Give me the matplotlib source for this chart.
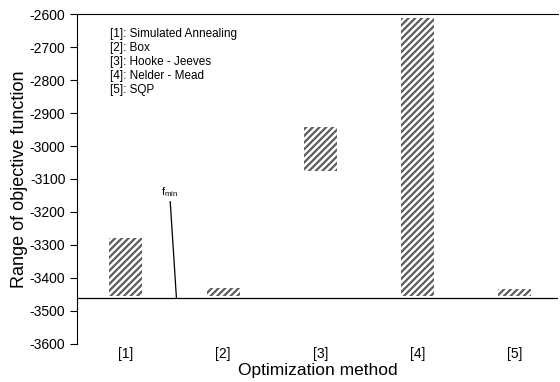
import matplotlib.pyplot as plt

plt.rcParams['font.family'] = ['Liberation Sans', 'DejaVu Sans']
plt.rcParams['hatch.linewidth'] = 1.6
plt.rcParams['mathtext.default'] = 'regular'
plt.rcParams['axes.unicode_minus'] = False

# optimization methods and the range of objective values each one reached
methods = ["[1]", "[2]", "[3]", "[4]", "[5]"]
method_names = ["Simulated Annealing", "Box", "Hooke - Jeeves", "Nelder - Mead", "SQP"]
range_low = [-3455, -3455, -3076, -3455, -3455]
range_high = [-3278, -3430, -2942, -2612, -3433]
f_min = -3460

positions = list(range(1, len(methods) + 1))
heights = [hi - lo for lo, hi in zip(range_low, range_high)]

fig, ax = plt.subplots(figsize=(5.6, 3.82), dpi=100)
fig.subplots_adjust(left=0.138, right=0.997, top=0.963, bottom=0.1)

ax.bar(positions, heights, bottom=range_low, width=0.34, color="white",
       edgecolor="#5c5c5c", hatch="/////", linewidth=0)

# reference line at the known minimum
ax.axhline(f_min, color="black", linewidth=0.9)
ax.annotate("f$_{min}$", xy=(1.52, f_min), xytext=(1.45, -3160),
            fontsize=8, ha="center", va="bottom",
            arrowprops=dict(arrowstyle="-", color="black", linewidth=0.9,
                            shrinkA=0, shrinkB=0))

legend_text = "\n".join(f"{m}: {n}" for m, n in zip(methods, method_names))
ax.text(0.068, 0.958, legend_text, transform=ax.transAxes, fontsize=8.5,
        va="top", ha="left", linespacing=1.22)

ax.set_xlim(0.5, 5.45)
ax.set_ylim(-3600, -2600)
ax.set_yticks(range(-3600, -2599, 100))
ax.set_xticks(positions)
ax.set_xticklabels(methods)
ax.tick_params(axis="x", length=0, pad=2, labelsize=10)
ax.tick_params(axis="y", direction="out", length=5, labelsize=10)

ax.spines["right"].set_visible(False)
ax.spines["bottom"].set_visible(False)

ax.set_xlabel("Optimization method", fontsize=12.5, labelpad=2)
ax.set_ylabel("Range of objective function", fontsize=13, labelpad=1)

fig.savefig("out.png", dpi=100)
